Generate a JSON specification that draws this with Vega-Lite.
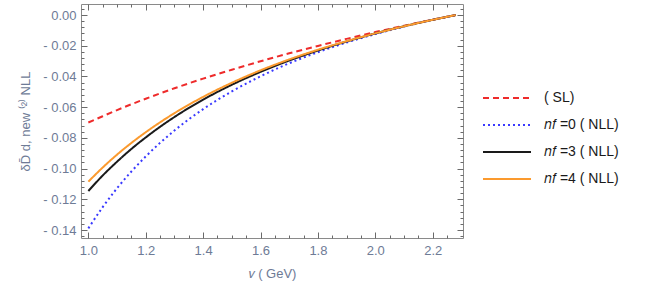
{
  "$schema": "https://vega.github.io/schema/vega-lite/v6.json",
  "width": 382,
  "height": 234,
  "autosize": "none",
  "padding": {"left": 81, "top": 4, "right": 191, "bottom": 51},
  "background": "white",
  "config": {
    "view": {"stroke": "#8a8a8a", "strokeWidth": 1},
    "axis": {"zindex": 1, "grid": false, "labelFont": "Liberation Sans", "titleFont": "Liberation Sans", "labelColor": "#6e7b96", "titleColor": "#6e7b96", "labelFontSize": 13, "titleFontSize": 13, "titleFontWeight": "normal", "tickColor": "#6a6a6a", "tickWidth": 1, "tickOpacity": 1, "domain": false}
  },
  "data": {"values": [
    {"v": 1.0, "d": -0.0700, "s": "SL"}, {"v": 1.05, "d": -0.0659, "s": "SL"}, {"v": 1.1, "d": -0.0619, "s": "SL"}, {"v": 1.15, "d": -0.0581, "s": "SL"}, {"v": 1.2, "d": -0.0545, "s": "SL"}, {"v": 1.3, "d": -0.0477, "s": "SL"}, {"v": 1.4, "d": -0.0414, "s": "SL"}, {"v": 1.5, "d": -0.0356, "s": "SL"}, {"v": 1.6, "d": -0.0301, "s": "SL"}, {"v": 1.7, "d": -0.0249, "s": "SL"}, {"v": 1.8, "d": -0.0201, "s": "SL"}, {"v": 1.9, "d": -0.0155, "s": "SL"}, {"v": 2.0, "d": -0.0111, "s": "SL"}, {"v": 2.1, "d": -0.0070, "s": "SL"}, {"v": 2.2, "d": -0.0030, "s": "SL"}, {"v": 2.28, "d": 0.0, "s": "SL"},
    {"v": 1.0, "d": -0.1389, "s": "n0"}, {"v": 1.05, "d": -0.1251, "s": "n0"}, {"v": 1.1, "d": -0.1128, "s": "n0"}, {"v": 1.15, "d": -0.1019, "s": "n0"}, {"v": 1.2, "d": -0.0921, "s": "n0"}, {"v": 1.3, "d": -0.0752, "s": "n0"}, {"v": 1.4, "d": -0.0613, "s": "n0"}, {"v": 1.5, "d": -0.0497, "s": "n0"}, {"v": 1.6, "d": -0.0399, "s": "n0"}, {"v": 1.7, "d": -0.0314, "s": "n0"}, {"v": 1.8, "d": -0.0242, "s": "n0"}, {"v": 1.9, "d": -0.0179, "s": "n0"}, {"v": 2.0, "d": -0.0124, "s": "n0"}, {"v": 2.1, "d": -0.0075, "s": "n0"}, {"v": 2.2, "d": -0.0031, "s": "n0"}, {"v": 2.28, "d": 0.0, "s": "n0"},
    {"v": 1.0, "d": -0.1146, "s": "n3"}, {"v": 1.05, "d": -0.1045, "s": "n3"}, {"v": 1.1, "d": -0.0955, "s": "n3"}, {"v": 1.15, "d": -0.0872, "s": "n3"}, {"v": 1.2, "d": -0.0797, "s": "n3"}, {"v": 1.3, "d": -0.0664, "s": "n3"}, {"v": 1.4, "d": -0.0551, "s": "n3"}, {"v": 1.5, "d": -0.0454, "s": "n3"}, {"v": 1.6, "d": -0.0370, "s": "n3"}, {"v": 1.7, "d": -0.0296, "s": "n3"}, {"v": 1.8, "d": -0.0231, "s": "n3"}, {"v": 1.9, "d": -0.0172, "s": "n3"}, {"v": 2.0, "d": -0.0120, "s": "n3"}, {"v": 2.1, "d": -0.0073, "s": "n3"}, {"v": 2.2, "d": -0.0031, "s": "n3"}, {"v": 2.28, "d": 0.0, "s": "n3"},
    {"v": 1.0, "d": -0.1085, "s": "n4"}, {"v": 1.05, "d": -0.0993, "s": "n4"}, {"v": 1.1, "d": -0.0909, "s": "n4"}, {"v": 1.15, "d": -0.0833, "s": "n4"}, {"v": 1.2, "d": -0.0763, "s": "n4"}, {"v": 1.3, "d": -0.0639, "s": "n4"}, {"v": 1.4, "d": -0.0533, "s": "n4"}, {"v": 1.5, "d": -0.0441, "s": "n4"}, {"v": 1.6, "d": -0.0360, "s": "n4"}, {"v": 1.7, "d": -0.0289, "s": "n4"}, {"v": 1.8, "d": -0.0226, "s": "n4"}, {"v": 1.9, "d": -0.0170, "s": "n4"}, {"v": 2.0, "d": -0.0119, "s": "n4"}, {"v": 2.1, "d": -0.0073, "s": "n4"}, {"v": 2.2, "d": -0.0031, "s": "n4"}, {"v": 2.28, "d": 0.0, "s": "n4"}
  ]},
  "resolve": {"axis": {"x": "independent", "y": "independent"}},
  "layer": [
    {
      "mark": {"type": "line", "strokeWidth": 2, "interpolate": "monotone"},
      "encoding": {
        "x": {"field": "v", "type": "quantitative", "scale": {"domain": [0.9744, 2.3056], "nice": false, "zero": false},
              "axis": {"orient": "bottom", "ticks": false, "labelPadding": 6, "values": [1.0, 1.2, 1.4, 1.6, 1.8, 2.0, 2.2], "format": ".1f", "title": "𝑣  ( GeV)", "titlePadding": 10}},
        "y": {"field": "d", "type": "quantitative", "scale": {"domain": [-0.1452, 0.0072], "nice": false, "zero": false},
              "axis": {"orient": "left", "ticks": false, "labelPadding": 5, "values": [0, -0.02, -0.04, -0.06, -0.08, -0.1, -0.12, -0.14],
                       "labelExpr": "datum.value < 0 ? '- ' + format(-datum.value, '.2f') : '0.00'",
                       "title": "δD̄ d, new ⁽²⁾ NLL", "titlePadding": 10}},
        "color": {"field": "s", "type": "nominal",
                  "scale": {"domain": ["SL", "n0", "n3", "n4"], "range": ["#ee2b2b", "#3a3aff", "#1a1a1a", "#fb9a2e"]},
                  "legend": {"orient": "none", "legendX": 401, "legendY": 84, "title": null,
                             "labelExpr": "datum.value == 'SL' ? '( SL)' : datum.value == 'n0' ? '𝑛𝑓 =0 ( NLL)' : datum.value == 'n3' ? '𝑛𝑓 =3 ( NLL)' : '𝑛𝑓 =4 ( NLL)'",
                             "symbolType": "stroke", "symbolSize": 2304, "symbolStrokeWidth": 2, "labelFontSize": 14, "labelFont": "Liberation Sans", "labelColor": "#1a1a1a", "labelOffset": 12, "clipHeight": 20, "rowPadding": 7}},
        "strokeDash": {"field": "s", "type": "nominal",
                       "scale": {"domain": ["SL", "n0", "n3", "n4"], "range": [[6, 4], [2, 3], [1, 0], [1, 0]]},
                       "legend": null}
      }
    },
    {
      "mark": {"type": "line", "opacity": 0},
      "encoding": {
        "x": {"field": "v", "type": "quantitative", "axis": {"orient": "top", "labels": false, "title": null, "ticks": true, "tickSize": 6, "offset": -6, "values": [1.0, 1.2, 1.4, 1.6, 1.8, 2.0, 2.2]}},
        "y": {"field": "d", "type": "quantitative", "axis": {"orient": "right", "labels": false, "title": null, "ticks": true, "tickSize": 6, "offset": -6, "values": [0, -0.02, -0.04, -0.06, -0.08, -0.1, -0.12, -0.14]}}
      }
    },
    {
      "mark": {"type": "line", "opacity": 0},
      "encoding": {
        "x": {"field": "v", "type": "quantitative", "axis": {"orient": "bottom", "labels": false, "title": null, "ticks": true, "tickSize": 6, "offset": -6, "values": [1.0, 1.2, 1.4, 1.6, 1.8, 2.0, 2.2]}},
        "y": {"field": "d", "type": "quantitative", "axis": {"orient": "left", "labels": false, "title": null, "ticks": true, "tickSize": 6, "offset": -6, "values": [0, -0.02, -0.04, -0.06, -0.08, -0.1, -0.12, -0.14]}}
      }
    },
    {
      "mark": {"type": "line", "opacity": 0},
      "encoding": {
        "x": {"field": "v", "type": "quantitative", "axis": {"orient": "top", "labels": false, "title": null, "ticks": true, "tickSize": 3, "offset": -3, "values": [1.05, 1.1, 1.15, 1.25, 1.3, 1.35, 1.45, 1.5, 1.55, 1.65, 1.7, 1.75, 1.85, 1.9, 1.95, 2.05, 2.1, 2.15, 2.25]}},
        "y": {"field": "d", "type": "quantitative", "axis": {"orient": "right", "labels": false, "title": null, "ticks": true, "tickSize": 3, "offset": -3, "values": [0.004, -0.004, -0.008, -0.012, -0.016, -0.024, -0.028, -0.032, -0.036, -0.044, -0.048, -0.052, -0.056, -0.064, -0.068, -0.072, -0.076, -0.084, -0.088, -0.092, -0.096, -0.104, -0.108, -0.112, -0.116, -0.124, -0.128, -0.132, -0.136, -0.144]}}
      }
    },
    {
      "mark": {"type": "line", "opacity": 0},
      "encoding": {
        "x": {"field": "v", "type": "quantitative", "axis": {"orient": "bottom", "labels": false, "title": null, "ticks": true, "tickSize": 3, "offset": -3, "values": [1.05, 1.1, 1.15, 1.25, 1.3, 1.35, 1.45, 1.5, 1.55, 1.65, 1.7, 1.75, 1.85, 1.9, 1.95, 2.05, 2.1, 2.15, 2.25]}},
        "y": {"field": "d", "type": "quantitative", "axis": {"orient": "left", "labels": false, "title": null, "ticks": true, "tickSize": 3, "offset": -3, "values": [0.004, -0.004, -0.008, -0.012, -0.016, -0.024, -0.028, -0.032, -0.036, -0.044, -0.048, -0.052, -0.056, -0.064, -0.068, -0.072, -0.076, -0.084, -0.088, -0.092, -0.096, -0.104, -0.108, -0.112, -0.116, -0.124, -0.128, -0.132, -0.136, -0.144]}}
      }
    }
  ]
}
